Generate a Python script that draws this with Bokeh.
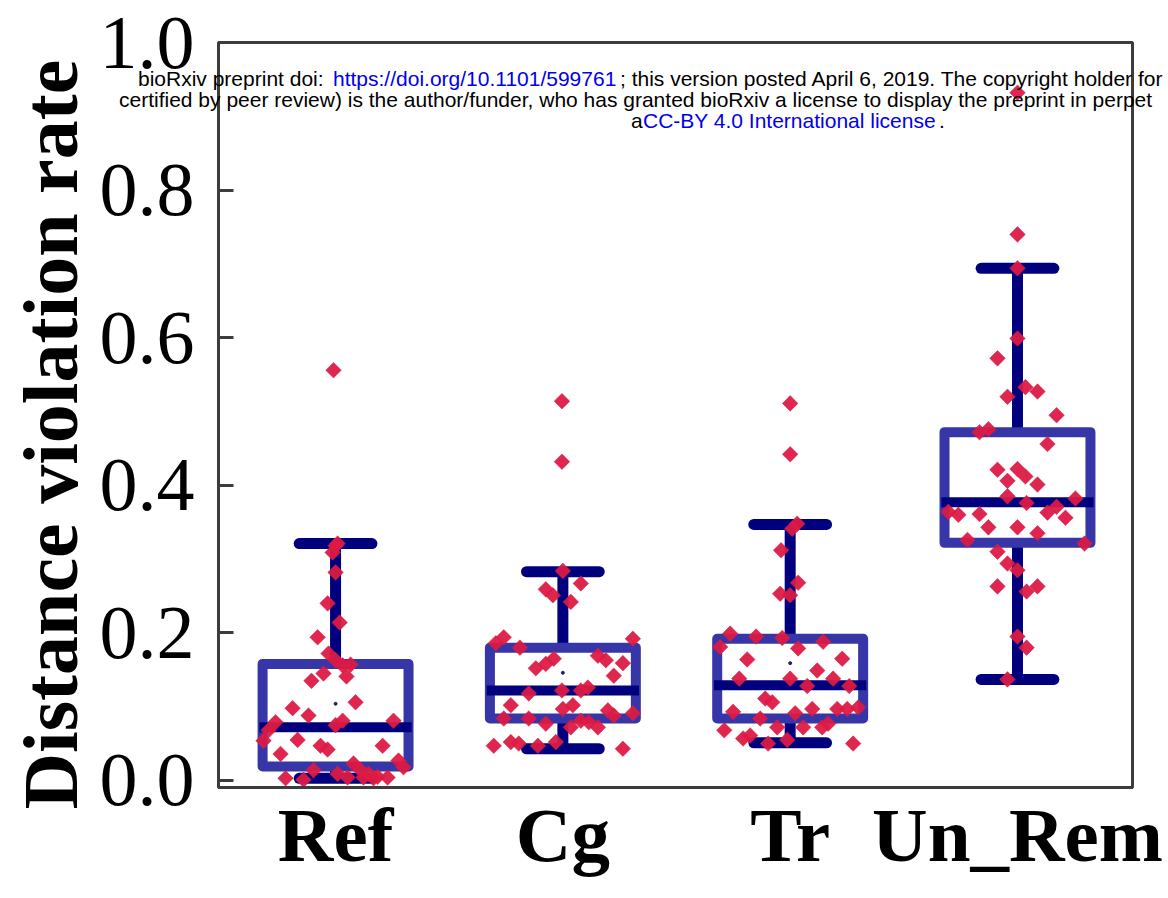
import html
from math import pi
from bokeh.plotting import figure
from bokeh.layouts import column
from bokeh.models import Range1d, FixedTicker, NumeralTickFormatter, ColumnDataSource, Div
from bokeh.embed import file_html
from bokeh.resources import INLINE

# ---------------- data ----------------
categories = ["Ref", "Cg", "Tr", "Un_Rem"]
positions = [1, 2, 3, 4]

q1 = [0.019, 0.084, 0.084, 0.322]
median = [0.072, 0.122, 0.129, 0.377]
q3 = [0.158, 0.180, 0.192, 0.472]
lower_whisker = [0.003, 0.043, 0.051, 0.137]
upper_whisker = [0.321, 0.283, 0.347, 0.694]
means = [0.104, 0.146, 0.159]

ref_values = [0.321, 0.318, 0.309, 0.282, 0.240, 0.214, 0.194, 0.172, 0.163, 0.156,
              0.157, 0.145, 0.135, 0.141, 0.106, 0.098, 0.088, 0.081, 0.075, 0.081,
              0.079, 0.068, 0.054, 0.055, 0.047, 0.042, 0.047, 0.036, 0.027, 0.018,
              0.014, 0.023, 0.014, 0.009, 0.009, 0.005, 0.004, 0.003, 0.001, 0.004,
              0.556, 0.003, 0.004]
ref_jitter = [0.009, 0.0, -0.013, 0.0, -0.035, 0.018, -0.079, -0.031, 0.0, 0.031,
              0.066, -0.053, -0.106, 0.048, 0.088, -0.189, -0.119, 0.031, 0.0, 0.255,
              -0.264, -0.295, -0.317, -0.167, -0.066, -0.035, 0.207, -0.242, 0.277, 0.299,
              -0.097, 0.079, 0.110, 0.009, 0.145, 0.185, 0.229, -0.220, -0.141, 0.053,
              -0.009, 0.167, 0.123]

cg_values = [0.514, 0.432, 0.284, 0.267, 0.259, 0.251, 0.242, 0.186, 0.194, 0.180,
             0.192, 0.169, 0.163, 0.159, 0.165, 0.158, 0.152, 0.142, 0.118, 0.122,
             0.122, 0.126, 0.102, 0.097, 0.102, 0.095, 0.088, 0.091, 0.084, 0.084,
             0.077, 0.072, 0.081, 0.079, 0.072, 0.047, 0.052, 0.050, 0.047, 0.052,
             0.043]
cg_jitter = [-0.004, -0.004, 0.0, 0.079, -0.075, -0.044, 0.035, -0.295, -0.260, -0.189,
             0.308, 0.154, 0.189, 0.264, -0.040, -0.075, -0.119, 0.224, -0.150, -0.004,
             0.079, 0.110, -0.229, 0.0, 0.044, 0.198, 0.224, 0.308, -0.260, -0.150,
             -0.075, 0.035, 0.079, 0.114, 0.154, -0.304, -0.229, -0.194, -0.110, -0.031,
             0.264]

tr_values = [0.511, 0.442, 0.348, 0.341, 0.312, 0.268, 0.253, 0.251, 0.199, 0.195,
             0.193, 0.188, 0.181, 0.179, 0.164, 0.165, 0.149, 0.138, 0.138, 0.138,
             0.128, 0.128, 0.111, 0.106, 0.093, 0.091, 0.097, 0.097, 0.097, 0.099,
             0.084, 0.072, 0.072, 0.072, 0.077, 0.068, 0.057, 0.061, 0.050, 0.055,
             0.050]
tr_jitter = [0.0, 0.0, 0.031, 0.009, -0.040, 0.035, -0.044, 0.0, -0.264, -0.150,
             -0.035, 0.145, -0.308, 0.035, -0.189, 0.229, 0.119, -0.224, 0.0, 0.189,
             0.075, 0.260, -0.110, -0.079, -0.251, 0.022, 0.097, 0.207, 0.251, 0.299,
             -0.132, -0.057, 0.057, 0.141, 0.167, -0.290, -0.207, -0.176, -0.097, -0.013,
             0.277]

un_values = [0.932, 0.740, 0.694, 0.599, 0.572,
             0.520, 0.533, 0.527, 0.495, 0.472, 0.476, 0.456, 0.421, 0.422, 0.412,
             0.406, 0.401, 0.385, 0.376, 0.382, 0.364, 0.360, 0.361, 0.363, 0.371,
             0.356, 0.343, 0.343, 0.335, 0.326, 0.321, 0.310, 0.294, 0.285, 0.263,
             0.256, 0.263, 0.195, 0.180, 0.137]
un_jitter = [0.0, 0.0, 0.0, 0.0, -0.088,
             -0.044, 0.035, 0.088, 0.172, -0.167, -0.128, 0.132, -0.088, 0.0, 0.035,
             -0.044, 0.088, -0.044, 0.040, 0.255, -0.304, -0.260, -0.167, 0.132, 0.172,
             0.211, -0.128, 0.0, 0.088, -0.220, 0.295, -0.088, -0.044, 0.0, -0.088,
             0.040, 0.088, 0.0, 0.040, -0.044]

y_ticks = [0.0, 0.2, 0.4, 0.6, 0.8, 1.0]
y_label = "Distance violation rate"

header_pieces = [
    ("bioRxiv preprint doi: ", "black", 138, 79),
    ("https://doi.org/10.1101/599761", "link", 333, 79),
    ("; this version posted April 6, 2019. The copyright holder for", "black", 620, 79),
    ("certified by peer review) is the author/funder, who has granted bioRxiv a license to display the preprint in perpet", "black", 119, 100),
    ("a", "black", 631, 121),
    ("CC-BY 4.0 International license", "link", 643, 121),
    (".", "black", 939, 121),
]

# ---------------- styles ----------------
BOX_COLOR = "#3636a8"
WHISKER_COLOR = "#00007e"
POINT_COLOR = "#dc1a44"
FRAME_COLOR = "#3c3c3c"
LINK_COLOR = "#0000ee"
SERIF = "Liberation Serif"
SANS = "Liberation Sans"

W, H = 1168, 898
X0, X1 = 0.485, 4.506
Y0, Y1 = -0.0095, 1.0
FRAME_L, FRAME_R, FRAME_T, FRAME_B = 218, 1132, 42, 787  # canvas pixels

p = figure(width=W, height=H, x_range=Range1d(X0, X1), y_range=Range1d(Y0, Y1),
           output_backend="svg", toolbar_location=None,
           min_border_left=FRAME_L, min_border_right=W - FRAME_R,
           min_border_top=FRAME_T, min_border_bottom=H - FRAME_B)
p.xgrid.visible = False
p.ygrid.visible = False
p.outline_line_color = FRAME_COLOR
p.outline_line_width = 3
p.background_fill_color = "white"
p.border_fill_color = "white"

# y axis
yax = p.yaxis[0]
yax.ticker = FixedTicker(ticks=y_ticks)
yax.formatter = NumeralTickFormatter(format="0.0")
yax.major_label_text_font = SERIF
yax.major_label_text_font_size = "76px"
yax.major_label_text_color = "black"
yax.major_label_standoff = 24
yax.major_tick_in = 15
yax.major_tick_out = 0
yax.major_tick_line_width = 3
yax.major_tick_line_color = FRAME_COLOR
yax.minor_tick_line_color = None
yax.axis_line_width = 3
yax.axis_line_color = FRAME_COLOR
# two trailing no-break spaces nudge the centred label down, as in the original
yax.axis_label = y_label + "\u00a0\u00a0"
yax.axis_label_text_font = SERIF
yax.axis_label_text_font_style = "bold"
yax.axis_label_text_font_size = "78px"
yax.axis_label_text_color = "black"
yax.axis_label_standoff = 3

# x axis
xax = p.xaxis[0]
xax.ticker = FixedTicker(ticks=positions)
xax.major_label_overrides = {pos: cat for pos, cat in zip(positions, categories)}
xax.major_label_text_font = SERIF
xax.major_label_text_font_style = "bold"
xax.major_label_text_font_size = "77px"
xax.major_label_text_color = "black"
xax.major_label_standoff = -2
xax.major_tick_line_color = None
xax.minor_tick_line_color = None
xax.axis_line_width = 3
xax.axis_line_color = FRAME_COLOR

# boxes
box_half = 0.321
cap_half = 0.16
med_half = 0.335
box_src = ColumnDataSource(dict(
    pos=positions,
    left=[x - box_half for x in positions], right=[x + box_half for x in positions],
    capl=[x - cap_half for x in positions], capr=[x + cap_half for x in positions],
    medl=[x - med_half for x in positions], medr=[x + med_half for x in positions],
    q1=q1, q3=q3, med=median, lo=lower_whisker, hi=upper_whisker))

p.segment(x0="pos", y0="q3", x1="pos", y1="hi", source=box_src,
          line_color=WHISKER_COLOR, line_width=11)
p.segment(x0="pos", y0="q1", x1="pos", y1="lo", source=box_src,
          line_color=WHISKER_COLOR, line_width=11)
p.segment(x0="capl", y0="hi", x1="capr", y1="hi", source=box_src,
          line_color=WHISKER_COLOR, line_width=11, line_cap="round")
p.segment(x0="capl", y0="lo", x1="capr", y1="lo", source=box_src,
          line_color=WHISKER_COLOR, line_width=11, line_cap="round")
p.quad(left="left", right="right", top="q3", bottom="q1", source=box_src,
       fill_color=None, line_color=BOX_COLOR, line_width=10, line_join="round")
p.segment(x0="medl", y0="med", x1="medr", y1="med", source=box_src,
          line_color=WHISKER_COLOR, line_width=10)

# mean dots
p.scatter(x=positions[:3], y=means, size=3, color="#202060")

# jittered points
xs, ys = [], []
for pos, vals, jit in zip(positions,
                          [ref_values, cg_values, tr_values, un_values],
                          [ref_jitter, cg_jitter, tr_jitter, un_jitter]):
    xs.extend([pos + j for j in jit])
    ys.extend(vals)
pts = ColumnDataSource(dict(x=xs, y=ys))
p.scatter(x="x", y="y", source=pts, marker="square", angle=pi / 4, size=11,
          fill_color=POINT_COLOR, line_color=POINT_COLOR, line_width=0.5, fill_alpha=0.95)

# bioRxiv header overlay (HTML on top of the canvas, not clipped by the frame)
parts = []
for text, kind, px, py in header_pieces:
    color = LINK_COLOR if kind == "link" else "black"
    parts.append(
        f'<div style="position:absolute; left:{px}px; top:{py - 11}px; white-space:nowrap; '
        f"color:{color}; font-family:'{SANS}', Arial, sans-serif; font-size:21px; "
        f'line-height:22px; margin:0; padding:0;">{html.escape(text)}</div>')
header = Div(text="".join(parts), width=W, height=140, margin=0,
             styles={"position": "absolute", "left": "0px", "top": "0px",
                     "z-index": "10", "pointer-events": "none", "overflow": "visible"})

layout = column(p, header)
open("out.html", "w").write(file_html(layout, INLINE))
